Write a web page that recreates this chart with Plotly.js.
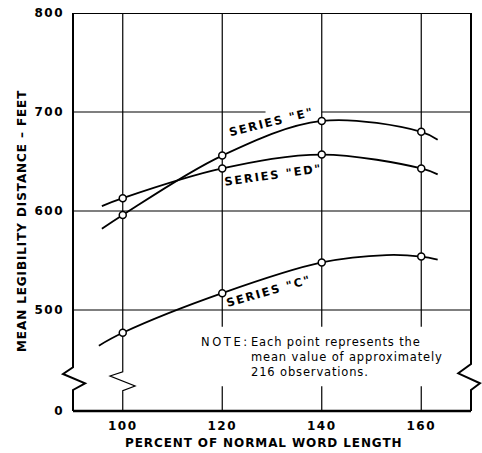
<!DOCTYPE html>
<html>
<head>
<meta charset="utf-8">
<script src="https://cdn.plot.ly/plotly-3.0.1.min.js"></script>
<style>html,body{margin:0;padding:0;background:#fff;}#chart{width:482px;height:453px;}</style>
</head>
<body>
<div id="chart"></div>
<script>
// ---- data ----
const wordLength = [100, 120, 140, 160];          // percent of normal word length
const seriesE  = [596, 656, 691, 680];             // mean legibility distance (ft)
const seriesED = [613, 643, 657, 643];
const seriesC  = [477, 517, 548, 554];

// fitted-curve traces as drawn (including their ends)
const curveEx  = [95.8, 100, 120, 140, 160, 163.3];
const curveEy  = [582, 596, 656, 691, 680, 672];
const curveEDx = [95.8, 100, 120, 140, 160, 163.3];
const curveEDy = [605, 613, 643, 657, 643, 637];
const curveCx  = [95.2, 100, 120, 140, 153, 160, 163.3];
const curveCy  = [464, 477, 517, 548, 555.5, 554, 551];

const xTickVals = [100, 120, 140, 160];
const xTickText = ["100", "120", "140", "160"];
const yTickVals = [398, 500, 600, 700, 800];
const yTickText = ["0", "500", "600", "700", "800"];
const seriesLabels = ['SERIES "E"', 'SERIES "ED"', 'SERIES "C"'];

const FONT = "DejaVu Sans";
const sp = (t, ls) => '<span style="letter-spacing:' + ls + 'px">' + t + '</span>';

const curveLine = {color: "#000", width: 1.8, shape: "spline"};
const marker = {symbol: "circle", size: 7, color: "#fff", line: {color: "#000", width: 1.5}};

const traces = [
  {x: curveEx,  y: curveEy,  mode: "lines", line: curveLine, hoverinfo: "skip"},
  {x: curveEDx, y: curveEDy, mode: "lines", line: curveLine, hoverinfo: "skip"},
  {x: curveCx,  y: curveCy,  mode: "lines", line: curveLine, hoverinfo: "skip"},
  {x: wordLength, y: seriesE,  mode: "markers", marker: marker, name: seriesLabels[0]},
  {x: wordLength, y: seriesED, mode: "markers", marker: marker, name: seriesLabels[1]},
  {x: wordLength, y: seriesC,  mode: "markers", marker: marker, name: seriesLabels[2]}
];

// ---- grid / frame shapes ----
const shapes = [];
const gridLine = {color: "#000", width: 1.2};
// horizontal gridlines (700 line interrupted behind the "E" label)
yTickVals.slice(1).forEach(v => {
  if (v === 700) {
    shapes.push({type: "line", xref: "x", yref: "y", x0: 90, x1: 128.7, y0: v, y1: v, line: gridLine, layer: "below"});
    shapes.push({type: "line", xref: "x", yref: "y", x0: 140, x1: 170, y0: v, y1: v, line: gridLine, layer: "below"});
  } else {
    shapes.push({type: "line", xref: "paper", yref: "y", x0: 0, x1: 1, y0: v, y1: v,
                 line: {color: "#000", width: v === 800 ? 2.2 : 1.2}, layer: "below"});
  }
});
// vertical gridlines
xTickVals.forEach(v => {
  if (v === 100) {
    shapes.push({type: "path", xref: "x", yref: "y", layer: "below", line: gridLine,
      path: `M ${v} 800 L ${v} 437.7 L ${v - 2.56} 433.3 L ${v + 2.48} 423.2 L ${v} 418.5 L ${v} 398`});
  } else {
    shapes.push({type: "line", xref: "x", yref: "y", x0: v, x1: v, y0: 800, y1: 483, line: gridLine, layer: "below"});
    shapes.push({type: "line", xref: "x", yref: "y", x0: v, x1: v, y0: 423, y1: 398, line: gridLine, layer: "below"});
  }
});
// left axis with break
shapes.push({type: "path", xref: "paper", yref: "paper", layer: "below", line: {color: "#000", width: 2},
  path: "M 0 1 L 0 0.1098 L -0.0251 0.093 L 0.0304 0.0696 L 0 0.0528 L 0 0"});
// right axis with break
shapes.push({type: "path", xref: "paper", yref: "paper", layer: "below", line: {color: "#000", width: 2},
  path: "M 1 1 L 1 0.118 L 0.968 0.0947 L 1.0226 0.0696 L 1 0.0528 L 1 0"});
// bottom axis
shapes.push({type: "line", xref: "paper", yref: "paper", x0: 0, x1: 1, y0: 0, y1: 0, layer: "below",
  line: {color: "#000", width: 2.6}});

const labFont = {family: FONT, size: 11.5, color: "#000", weight: "bold"};
const annotations = [
  {xref: "paper", yref: "paper", x: 0.498, y: 0.725, text: sp(seriesLabels[0], 1.8), textangle: -14,
   showarrow: false, font: labFont, xanchor: "center", yanchor: "middle"},
  {xref: "paper", yref: "paper", x: 0.503, y: 0.593, text: sp(seriesLabels[1], 1.8), textangle: -8,
   showarrow: false, font: labFont, xanchor: "center", yanchor: "middle"},
  {xref: "paper", yref: "paper", x: 0.493, y: 0.302, text: sp(seriesLabels[2], 1.8), textangle: -16,
   showarrow: false, font: labFont, xanchor: "center", yanchor: "middle"},
  {xref: "paper", yref: "paper", x: (199.3 - 73) / 398, y: (411 - 341.7) / 398, text: sp("NOTE:", 2.6),
   showarrow: false, font: {family: FONT, size: 11.5, color: "#000"}, xanchor: "left", yanchor: "middle"},
  {xref: "paper", yref: "paper", x: (249 - 73) / 398, y: (411 - 333) / 398, align: "left",
   text: sp("Each point represents the", 0.85) + "<br>" + sp("mean value of approximately", 0.85) + "<br>" + sp("216 observations.", 0.85),
   showarrow: false, font: {family: FONT, size: 11.5, color: "#000"}, xanchor: "left", yanchor: "top"},
  {xref: "paper", yref: "paper", x: (263 - 73) / 398, y: (411 - 442.7) / 398,
   text: sp("PERCENT OF NORMAL WORD LENGTH", 0.9), showarrow: false,
   font: {family: FONT, size: 12, color: "#000", weight: "bold"}, xanchor: "center", yanchor: "middle"},
  {xref: "paper", yref: "paper", x: (22 - 73) / 398, y: (411 - 221) / 398, textangle: -90,
   text: sp("MEAN LEGIBILITY DISTANCE \u2013 FEET", 0.9), showarrow: false,
   font: {family: FONT, size: 12, color: "#000", weight: "bold"}, xanchor: "center", yanchor: "middle"}
];

const tickFont = {family: FONT, size: 12, color: "#000", weight: "bold"};
const layout = {
  width: 482, height: 453,
  margin: {l: 73, r: 11, t: 13, b: 42, pad: 0},
  paper_bgcolor: "#fff", plot_bgcolor: "rgba(0,0,0,0)",
  showlegend: false,
  xaxis: {range: [90, 170], tickmode: "array", tickvals: xTickVals, ticktext: xTickText.map(t => sp(t, 1.5)),
          showgrid: false, zeroline: false, showline: false, ticks: "", tickfont: tickFont, ticklabelstandoff: 6},
  yaxis: {range: [398, 800], tickmode: "array", tickvals: yTickVals, ticktext: yTickText.map(t => sp(t, 1.5)),
          showgrid: false, zeroline: false, showline: false, ticks: "", tickfont: tickFont, ticklabelstandoff: 8},
  shapes: shapes,
  annotations: annotations
};

Plotly.newPlot("chart", traces, layout, {staticPlot: true, displayModeBar: false});
</script>
</body>
</html>
